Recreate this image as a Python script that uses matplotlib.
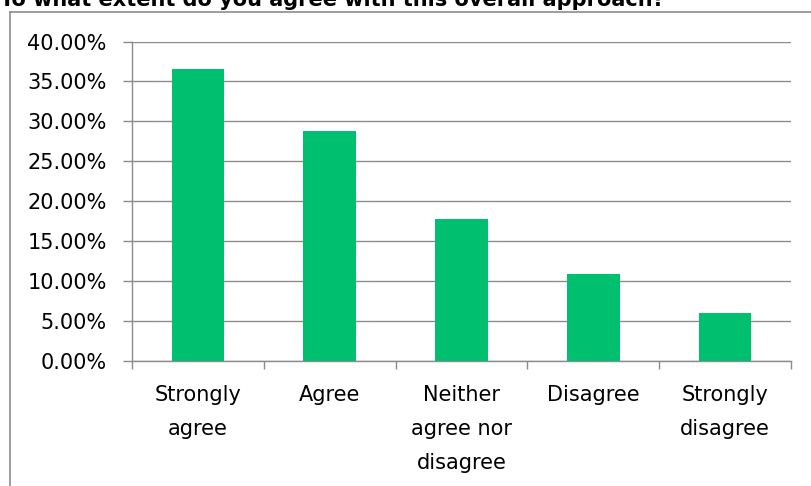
import matplotlib.pyplot as plt
from matplotlib.lines import Line2D
from matplotlib.ticker import FixedLocator, FormatStrFormatter
import numpy as np

# 数据
title = "To what extent do you agree with this overall approach?"
categories = ["Strongly\nagree", "Agree", "Neither\nagree nor\ndisagree", "Disagree", "Strongly\ndisagree"]
percent = [36.54, 28.75, 17.75, 10.88, 6.00]
y_ticks = [0, 5, 10, 15, 20, 25, 30, 35, 40]


def show_data():
    """
    绘制柱状图
    """
    plt.rcParams['font.family'] = ['DejaVu Sans']
    grey = "#8c8c8c"

    fig = plt.figure(figsize=(8.11, 4.86), dpi=100)
    ax = fig.add_axes([0.1631, 0.2566, 0.8119, 0.658])

    x = np.arange(len(categories))
    ax.bar(x, percent, width=0.4, color="#00BF6F", zorder=3)

    ax.set_xlim(-0.5, len(categories) - 0.5)
    ax.set_ylim(0, 40)

    # y 轴
    ax.set_yticks(y_ticks)
    ax.yaxis.set_major_formatter(FormatStrFormatter("%.2f%%"))
    ax.grid(axis="y", color=grey, linewidth=1.0, zorder=0)
    ax.tick_params(axis="y", direction="out", length=6.5, width=1.0, color=grey,
                   pad=12, labelsize=15, labelcolor="black")

    # x 轴: 分隔刻度 + 居中标签
    ax.xaxis.set_major_locator(FixedLocator(np.arange(-0.5, len(categories), 1.0)))
    ax.xaxis.set_major_formatter(plt.NullFormatter())
    ax.xaxis.set_minor_locator(FixedLocator(x))
    ax.set_xticklabels(categories, minor=True, linespacing=1.88)
    ax.tick_params(axis="x", which="major", direction="out", length=6, width=1.0, color=grey)
    ax.tick_params(axis="x", which="minor", length=0, pad=17, labelsize=15, labelcolor="black")

    for side in ["top", "right"]:
        ax.spines[side].set_visible(False)
    for side in ["left", "bottom"]:
        ax.spines[side].set_color(grey)
        ax.spines[side].set_linewidth(1.0)

    # 外框 (右侧和底部在图片之外)
    bx = 10 / 811
    by = 1 - 12 / 486
    fig.add_artist(Line2D([bx, bx], [-0.1, by], transform=fig.transFigure, color=grey, linewidth=1.2))
    fig.add_artist(Line2D([bx, 1.1], [by, by], transform=fig.transFigure, color=grey, linewidth=1.2))

    # 标题 (上半部分被裁掉)
    fig.text(0.0, 1 - 5.5 / 486, title, fontsize=15, fontweight="bold",
             ha="left", va="baseline", color="black")

    plt.savefig("out.png", dpi=100)


def main():
    show_data()


if __name__ == '__main__':
    main()
